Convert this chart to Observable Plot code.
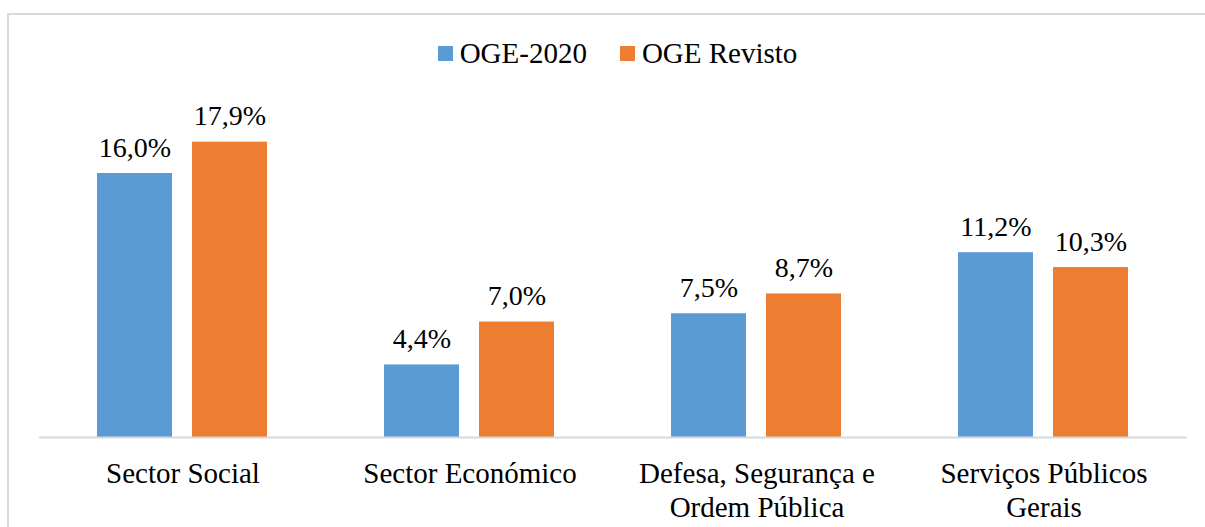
<!DOCTYPE html>
<html>
<head>
<meta charset="utf-8">
<script src="https://cdn.jsdelivr.net/npm/d3@7"></script>
<script src="https://cdn.jsdelivr.net/npm/@observablehq/plot@0.6"></script>
<style>
  html, body { margin: 0; padding: 0; background: #fff; overflow: hidden; }
  #wrap { position: relative; width: 1205px; height: 527px; overflow: hidden; font-family: "Liberation Serif", "Times New Roman", serif; }
  #frame { position: absolute; left: 7px; top: 13px; width: 1400px; height: 700px; border: 2px solid #d9d9d9; box-sizing: border-box; }
  #chart { position: absolute; left: 0; top: 0; }
  #legend { position: absolute; left: 0; top: 36px; width: 1235px; display: flex; justify-content: center; align-items: center; font-size: 29px; line-height: 34px; color: #000; }
  .item { display: flex; align-items: center; margin: 0 16.5px; }
  .sw { width: 15px; height: 15px; margin-right: 7px; }
</style>
</head>
<body>
<div id="wrap">
  <div id="frame"></div>
  <div id="chart"></div>
  <div id="legend"></div>
</div>
<script>
const categories = ["Sector Social", "Sector Económico", "Defesa, Segurança e\nOrdem Pública", "Serviços Públicos\nGerais"];
const series = ["OGE-2020", "OGE Revisto"];
const oge2020 = [16.0, 4.4, 7.5, 11.2];
const ogeRevisto = [17.9, 7.0, 8.7, 10.3];
const colors = ["#5B9BD5", "#ED7D31"];

const FONT = "Liberation Serif";
// force the local font to load before rendering
const ctx = document.createElement("canvas").getContext("2d");
ctx.font = '29px "Liberation Serif"';
ctx.measureText("Sector Social 17,9%");

const data = [];
categories.forEach((c, i) => {
  data.push({cat: c, series: series[0], value: oge2020[i]});
  data.push({cat: c, series: series[1], value: ogeRevisto[i]});
});
const fmt = v => v.toFixed(1).replace(".", ",") + "%";

const plot = Plot.plot({
  width: 1205,
  height: 527,
  marginLeft: 37,
  marginRight: 17,
  marginTop: 107,
  marginBottom: 90,
  style: {background: "transparent", color: "#000"},
  fx: {domain: categories, paddingInner: 0, paddingOuter: 0, label: null},
  x: {domain: series, paddingInner: 0.208, paddingOuter: 0.603, axis: null},
  y: {domain: [0, 20], axis: null},
  color: {domain: series, range: colors},
  marks: [
    Plot.barY(data, {fx: "cat", x: "series", y: "value", fill: "series"}),
    Plot.ruleY([0], {stroke: "#d9d9d9", strokeWidth: 2}),
    Plot.text(data, {fx: "cat", x: "series", y: "value", text: d => fmt(d.value), lineAnchor: "bottom", dy: -17, fontSize: 28, fontFamily: FONT, fill: "#000"}),
    Plot.axisFx({anchor: "bottom", tickSize: 0, tickPadding: 21, fontSize: 29, fontFamily: FONT, lineHeight: 1.17, label: null, fill: "#000"})
  ]
});
plot.setAttribute("font-family", FONT);
plot.querySelectorAll("text").forEach(t => { t.setAttribute("font-family", FONT); t.style.fontFamily = '"Liberation Serif"'; });
document.getElementById("chart").appendChild(plot);

const legend = document.getElementById("legend");
series.forEach((s, i) => {
  const item = document.createElement("div");
  item.className = "item";
  const sw = document.createElement("div");
  sw.className = "sw";
  sw.style.background = colors[i];
  const t = document.createElement("span");
  t.textContent = s;
  item.appendChild(sw);
  item.appendChild(t);
  legend.appendChild(item);
});
</script>
</body>
</html>
